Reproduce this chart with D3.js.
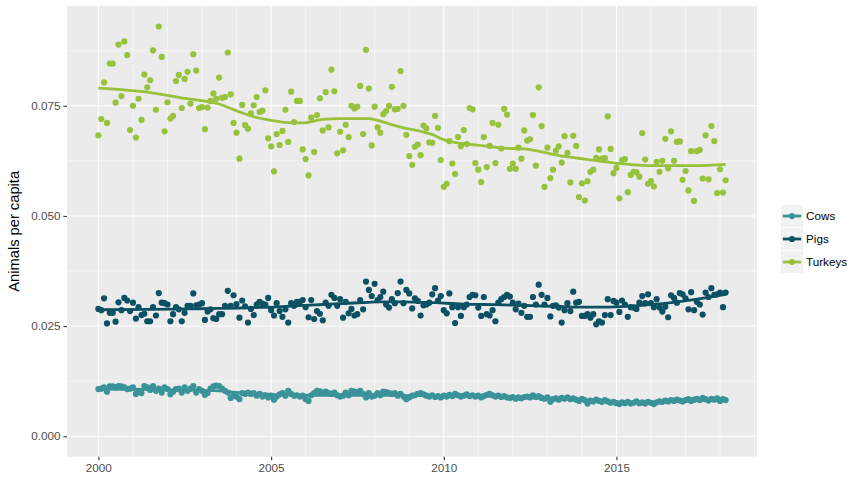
<!DOCTYPE html>
<html><head><meta charset="utf-8">
<script src="https://cdn.jsdelivr.net/npm/d3@7"></script>
<style>body{margin:0;background:#fff} text{font-family:"Liberation Sans",Arial,sans-serif}</style>
</head><body><svg id="c" width="867" height="496"></svg>
<script>
const firstMonth = new Date(2000, 0, 1);
const monthCount = 219;
const seriesNames = ["Cows", "Pigs", "Turkeys"];
const seriesColors = ["#3a9399", "#0b5163", "#98c13c"];
const xTickYears = [2000, 2005, 2010, 2015];
const yTicks = [0, 0.025, 0.05, 0.075];
const yMinor = [0.0125, 0.0375, 0.0625, 0.0875];

const cows = [0.0107,0.0108,0.0111,0.0101,0.0113,0.0113,0.0111,0.0114,0.0113,0.0111,0.0107,0.0108,0.0111,0.0096,0.0103,0.0098,0.0114,0.0111,0.0105,0.0114,
0.0103,0.0108,0.0099,0.0111,0.0107,0.0095,0.0101,0.0107,0.0108,0.0099,0.0111,0.0103,0.0108,0.0114,0.0099,0.0107,0.0103,0.0094,0.0098,0.0108,
0.0113,0.0115,0.0114,0.0108,0.0103,0.0099,0.0087,0.0093,0.0090,0.0084,0.0098,0.0096,0.0099,0.0096,0.0098,0.0092,0.0096,0.0090,0.0093,0.0088,
0.0092,0.0083,0.0090,0.0095,0.0098,0.0092,0.0103,0.0096,0.0092,0.0093,0.0090,0.0092,0.0084,0.0080,0.0093,0.0098,0.0103,0.0102,0.0098,0.0101,
0.0098,0.0096,0.0099,0.0093,0.0090,0.0092,0.0099,0.0093,0.0103,0.0101,0.0099,0.0103,0.0096,0.0088,0.0098,0.0090,0.0092,0.0098,0.0093,0.0101,
0.0100,0.0098,0.0096,0.0098,0.0092,0.0096,0.0090,0.0084,0.0088,0.0092,0.0093,0.0096,0.0098,0.0095,0.0092,0.0090,0.0093,0.0089,0.0091,0.0088,
0.0092,0.0090,0.0094,0.0091,0.0096,0.0093,0.0090,0.0092,0.0095,0.0091,0.0093,0.0090,0.0092,0.0088,0.0091,0.0094,0.0096,0.0093,0.0090,0.0092,
0.0089,0.0091,0.0088,0.0087,0.0089,0.0085,0.0088,0.0086,0.0089,0.0090,0.0088,0.0093,0.0089,0.0091,0.0087,0.0085,0.0088,0.0078,0.0084,0.0086,
0.0083,0.0087,0.0085,0.0088,0.0084,0.0086,0.0083,0.0080,0.0085,0.0082,0.0074,0.0081,0.0079,0.0083,0.0080,0.0078,0.0082,0.0079,0.0076,0.0078,
0.0075,0.0073,0.0077,0.0075,0.0078,0.0074,0.0076,0.0079,0.0075,0.0077,0.0074,0.0078,0.0076,0.0073,0.0077,0.0079,0.0078,0.0081,0.0079,0.0082,
0.0080,0.0083,0.0081,0.0079,0.0082,0.0084,0.0080,0.0083,0.0085,0.0082,0.0087,0.0084,0.0081,0.0085,0.0083,0.0086,0.0080,0.0084,0.0082];

const pigs = [0.0289,0.0286,0.0313,0.0256,0.0280,0.0280,0.0260,0.0304,0.0286,0.0314,0.0308,0.0284,0.0303,0.0267,0.0293,0.0275,0.0278,0.0261,0.0261,0.0293,
0.0274,0.0325,0.0303,0.0302,0.0299,0.0261,0.0277,0.0293,0.0288,0.0261,0.0280,0.0296,0.0296,0.0324,0.0297,0.0299,0.0302,0.0264,0.0283,0.0288,
0.0268,0.0266,0.0277,0.0277,0.0296,0.0330,0.0296,0.0320,0.0300,0.0269,0.0308,0.0295,0.0258,0.0289,0.0275,0.0299,0.0305,0.0301,0.0299,0.0314,
0.0286,0.0274,0.0302,0.0284,0.0271,0.0288,0.0258,0.0302,0.0296,0.0305,0.0305,0.0309,0.0293,0.0270,0.0309,0.0266,0.0284,0.0278,0.0263,0.0303,
0.0296,0.0321,0.0314,0.0296,0.0311,0.0269,0.0305,0.0279,0.0289,0.0274,0.0277,0.0309,0.0288,0.0351,0.0332,0.0318,0.0346,0.0309,0.0316,0.0328,
0.0299,0.0292,0.0311,0.0302,0.0325,0.0351,0.0302,0.0332,0.0324,0.0290,0.0313,0.0307,0.0274,0.0297,0.0299,0.0303,0.0322,0.0336,0.0308,0.0318,
0.0286,0.0279,0.0324,0.0293,0.0257,0.0293,0.0273,0.0293,0.0299,0.0316,0.0321,0.0320,0.0292,0.0273,0.0316,0.0277,0.0274,0.0286,0.0261,0.0303,
0.0311,0.0316,0.0321,0.0317,0.0303,0.0288,0.0301,0.0280,0.0296,0.0271,0.0271,0.0316,0.0299,0.0344,0.0321,0.0299,0.0314,0.0272,0.0296,0.0297,
0.0292,0.0258,0.0286,0.0302,0.0284,0.0328,0.0303,0.0305,0.0273,0.0273,0.0277,0.0269,0.0277,0.0254,0.0261,0.0258,0.0275,0.0311,0.0275,0.0307,
0.0303,0.0282,0.0308,0.0299,0.0271,0.0293,0.0292,0.0289,0.0303,0.0318,0.0302,0.0322,0.0302,0.0293,0.0311,0.0292,0.0283,0.0294,0.0270,0.0320,
0.0314,0.0303,0.0325,0.0322,0.0313,0.0288,0.0327,0.0286,0.0305,0.0299,0.0276,0.0326,0.0316,0.0336,0.0321,0.0322,0.0326,0.0293,0.0326];

const turkeys = [0.0683,0.0720,0.0803,0.0711,0.0846,0.0846,0.0757,0.0889,0.0772,0.0896,0.0865,0.0695,0.0750,0.0678,0.0766,0.0718,0.0821,0.0792,0.0808,0.0876,
0.0741,0.0930,0.0861,0.0692,0.0758,0.0721,0.0727,0.0806,0.0820,0.0745,0.0811,0.0827,0.0755,0.0867,0.0830,0.0745,0.0747,0.0697,0.0746,0.0761,
0.0778,0.0766,0.0814,0.0768,0.0770,0.0871,0.0776,0.0711,0.0689,0.0630,0.0752,0.0706,0.0698,0.0733,0.0751,0.0770,0.0736,0.0739,0.0785,0.0676,
0.0658,0.0601,0.0686,0.0661,0.0693,0.0741,0.0668,0.0782,0.0713,0.0761,0.0761,0.0651,0.0629,0.0592,0.0723,0.0645,0.0729,0.0767,0.0694,0.0781,
0.0701,0.0832,0.0783,0.0642,0.0691,0.0649,0.0707,0.0679,0.0750,0.0744,0.0748,0.0795,0.0686,0.0877,0.0789,0.0660,0.0748,0.0701,0.0689,0.0731,
0.0738,0.0750,0.0793,0.0742,0.0743,0.0829,0.0750,0.0684,0.0636,0.0616,0.0657,0.0662,0.0638,0.0705,0.0699,0.0667,0.0666,0.0727,0.0700,0.0627,
0.0566,0.0573,0.0670,0.0619,0.0595,0.0679,0.0658,0.0695,0.0663,0.0745,0.0742,0.0620,0.0605,0.0577,0.0679,0.0611,0.0659,0.0711,0.0620,0.0707,
0.0653,0.0743,0.0730,0.0607,0.0619,0.0607,0.0655,0.0630,0.0694,0.0671,0.0674,0.0729,0.0614,0.0792,0.0704,0.0566,0.0655,0.0586,0.0605,0.0648,
0.0658,0.0621,0.0681,0.0643,0.0576,0.0682,0.0659,0.0543,0.0574,0.0535,0.0579,0.0600,0.0605,0.0632,0.0651,0.0630,0.0631,0.0726,0.0652,0.0597,
0.0609,0.0540,0.0627,0.0629,0.0554,0.0593,0.0600,0.0599,0.0589,0.0688,0.0628,0.0573,0.0579,0.0567,0.0623,0.0600,0.0625,0.0675,0.0608,0.0692,
0.0625,0.0668,0.0669,0.0582,0.0602,0.0558,0.0647,0.0534,0.0647,0.0650,0.0585,0.0683,0.0583,0.0704,0.0670,0.0552,0.0606,0.0553,0.0581];

// smoothed trend, at these month indices
const smoothIdx = [0, 18, 30, 42, 49, 54, 60, 66, 71, 78, 84, 94, 97, 101, 106, 112, 117, 120, 127, 134, 141, 148, 152, 157, 162, 169, 176, 186, 196, 207, 218];
const cowsSmooth = [0.0107,0.0106,0.0105,0.0103,0.0099,0.0097,0.0095,0.0094,0.0093,0.0093,0.0093,0.0093,0.0093,0.0093,0.0092,0.0092,0.0091,0.0091,0.0091,0.0091,0.0090,0.0088,0.0087,0.0086,0.0085,0.0082,0.0079,0.0077,0.0078,0.0080,0.0083];
const pigsSmooth = [0.0287,0.0288,0.0289,0.0290,0.0291,0.0292,0.0293,0.0295,0.0297,0.0299,0.0301,0.0304,0.0305,0.0305,0.0305,0.0304,0.0303,0.0302,0.0300,0.0299,0.0298,0.0297,0.0296,0.0295,0.0294,0.0293,0.0293,0.0296,0.0301,0.0310,0.0322];
const turkeysSmooth = [0.0790,0.0780,0.0767,0.0754,0.0736,0.0725,0.0717,0.0712,0.0711,0.0719,0.0721,0.0721,0.0717,0.0709,0.0700,0.0692,0.0682,0.0673,0.0664,0.0659,0.0654,0.0652,0.0648,0.0641,0.0635,0.0629,0.0623,0.0616,0.0614,0.0614,0.0617];

const svg = d3.select("#c");
const P = {l: 67, r: 757, t: 6, b: 456.7};
const dates = d3.timeMonth.range(firstMonth, d3.timeMonth.offset(firstMonth, monthCount));
const values = [cows, pigs, turkeys];
const smooths = [cowsSmooth, pigsSmooth, turkeysSmooth];

const t0 = +dates[0], t1 = +dates[dates.length - 1], ts = t1 - t0;
const x = d3.scaleTime().domain([new Date(t0 - 0.05 * ts), new Date(t1 + 0.05 * ts)]).range([P.l, P.r]);
const yMax = d3.max(values.flat()), yMin = 0;
const yr = yMax - yMin;
const y = d3.scaleLinear().domain([yMin - 0.05 * yr, yMax + 0.05 * yr]).range([P.b, P.t]);

svg.append("rect").attr("x", P.l).attr("y", P.t).attr("width", P.r - P.l).attr("height", P.b - P.t).attr("fill", "#ebebeb");

const grid = svg.append("g");
const minorYears = d3.range(1999, 2021).filter(v => !xTickYears.includes(v)).map(v => new Date(v, 0, 1)).filter(d => x(d) > P.l && x(d) < P.r);
grid.selectAll(".mx").data(minorYears).join("line").attr("x1", d => x(d)).attr("x2", d => x(d)).attr("y1", P.t).attr("y2", P.b).attr("stroke", "#fff").attr("stroke-width", 0.53);
grid.selectAll(".my").data(yMinor).join("line").attr("x1", P.l).attr("x2", P.r).attr("y1", d => y(d)).attr("y2", d => y(d)).attr("stroke", "#fff").attr("stroke-width", 0.53);
grid.selectAll(".Mx").data(xTickYears.map(v => new Date(v, 0, 1))).join("line").attr("x1", d => x(d)).attr("x2", d => x(d)).attr("y1", P.t).attr("y2", P.b).attr("stroke", "#fff").attr("stroke-width", 1.07);
grid.selectAll(".My").data(yTicks).join("line").attr("x1", P.l).attr("x2", P.r).attr("y1", d => y(d)).attr("y2", d => y(d)).attr("stroke", "#fff").attr("stroke-width", 1.07);

// points
const pts = svg.append("g");
values.forEach((vals, i) => {
  pts.selectAll(null).data(vals.map((v, j) => [dates[j], v])).join("circle")
    .attr("cx", d => x(d[0])).attr("cy", d => y(d[1])).attr("r", 3.1).attr("fill", seriesColors[i]);
});
// smooth lines
const line = d3.line().x(d => x(d[0])).y(d => y(d[1])).curve(d3.curveMonotoneX);
smooths.forEach((s, i) => {
  svg.append("path").datum(s.map((v, j) => [dates[smoothIdx[j]], v]))
    .attr("d", line).attr("fill", "none").attr("stroke", seriesColors[i]).attr("stroke-width", 2.8);
});

// axes
const ya = svg.append("g").attr("transform", `translate(${P.l},0)`)
  .call(d3.axisLeft(y).tickValues(yTicks).tickFormat(d3.format(".3f")).tickSize(3.67).tickPadding(2.9));
const xa = svg.append("g").attr("transform", `translate(0,${P.b})`)
  .call(d3.axisBottom(x).tickValues(xTickYears.map(v => new Date(v, 0, 1))).tickFormat(d3.timeFormat("%Y")).tickSize(3.67).tickPadding(2.9));
[ya, xa].forEach(a => {
  a.select(".domain").remove();
  a.selectAll("line").attr("stroke", "#333").attr("stroke-width", 1.07);
  a.selectAll("text").attr("fill", "#4d4d4d").style("font-size", "11.7px").style("font-family", '"Liberation Sans",Arial,sans-serif');
});

svg.append("text").attr("transform", `translate(19,${(P.t + P.b) / 2}) rotate(-90)`)
  .attr("text-anchor", "middle").style("font-size", "14.7px").attr("fill", "#000").text("Animals per capita");

// legend
const lg = svg.append("g").attr("transform", "translate(780.5,204.5)");
seriesNames.forEach((n, i) => {
  const g = lg.append("g").attr("transform", `translate(0,${i * 23})`);
  g.append("rect").attr("width", 23).attr("height", 23).attr("fill", "#f2f2f2").attr("stroke", "#fff").attr("stroke-width", 1);
  g.append("line").attr("x1", 2.3).attr("x2", 20.7).attr("y1", 11.5).attr("y2", 11.5).attr("stroke", seriesColors[i]).attr("stroke-width", 2.8);
  g.append("circle").attr("cx", 11.5).attr("cy", 11.5).attr("r", 3.1).attr("fill", seriesColors[i]);
  g.append("text").attr("x", 25.5).attr("y", 11.5).attr("dy", "0.35em").style("font-size", "11.7px").attr("fill", "#000").text(n);
});
</script></body></html>
